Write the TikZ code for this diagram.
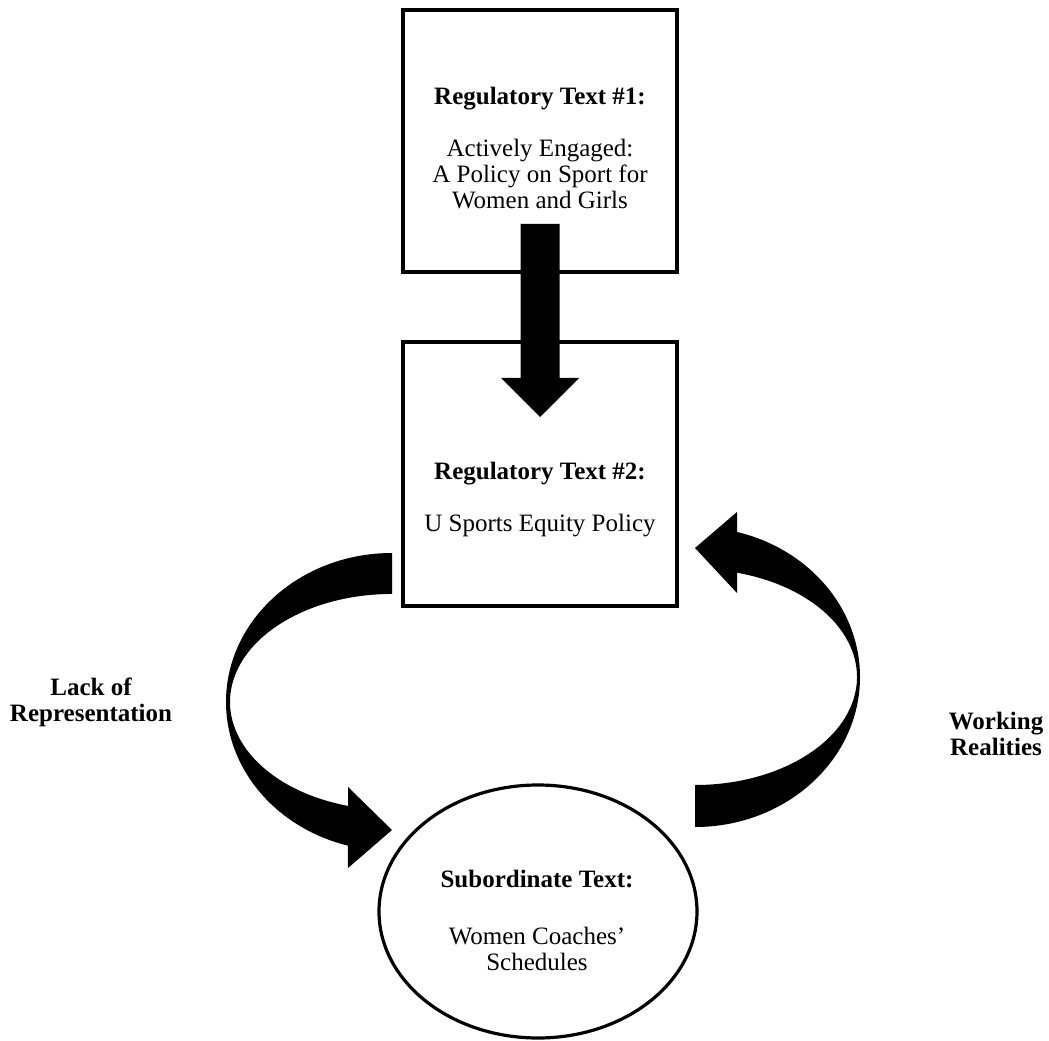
\documentclass[tikz,border=0pt]{standalone}
\usepackage{fontspec}
\setmainfont{Liberation Serif}
\usetikzlibrary{shapes.geometric}
\begin{document}
\begin{tikzpicture}[x=0.5pt,y=0.5pt,
  boxnode/.style={draw,line width=2pt,rectangle,minimum width=137pt,minimum height=131pt,inner sep=0pt},
  ellnode/.style={draw,ellipse,line width=1.6pt,minimum width=159pt,minimum height=126.5pt,inner sep=0pt},
  txt/.style={align=center,font=\fontsize{12.5pt}{13pt}\selectfont,inner sep=0pt},
  lbl/.style={align=center,font=\fontsize{12.5pt}{13pt}\selectfont\bfseries,inner sep=0pt},
  bigarrow/.style={fill=black}]

\fill[white] (0,0) rectangle (1049,1040);
\useasboundingbox (0,0) rectangle (1049,1040);

% boxes and ellipse
\node[boxnode] (b1) at (540,899) {};
\node[boxnode,minimum height=132pt] (b2) at (540,566) {};
\node[ellnode] (e) at (538,128.5) {};

% texts
\node[txt] (t1) at (540,891.5) {\textbf{Regulatory Text \#1:}\\[13pt] Actively Engaged:\\ A Policy on Sport for\\ Women and Girls};
\node[txt] (t2) at (540,540.5) {\textbf{Regulatory Text \#2:}\\[13pt] U Sports Equity Policy};
\node[txt] (t3) at (537,120) {\textbf{Subordinate Text:}\\[15.5pt] Women Coaches’\\ Schedules};
\node[lbl] (l1) at (91,338) {Lack of\\ Representation};
\node[lbl] (l2) at (996,306) {Working\\ Realities};

% straight block arrow from box 1 to box 2
\fill[bigarrow] (520.5,816) -- (559.5,816) -- (559.5,662) -- (579,662) -- (540,623)
  -- (501,662) -- (520.5,662) -- cycle;

% left curved arrow (box 2 -> ellipse)
\fill[bigarrow] (392,487) arc[start angle=90,end angle=254.6,x radius=83pt,y radius=74.5pt]
  -- (348,172) -- (392,210) -- (348,253) -- (348,234.1)
  arc[start angle=254.24,end angle=90,x radius=81pt,y radius=54pt] -- cycle;

% right curved arrow (ellipse -> box 2)
\fill[bigarrow] (695,213) arc[start angle=-90,end angle=75.25,x radius=82.5pt,y radius=75pt]
  -- (737,528) -- (695,492) -- (737,447) -- (737,467.3)
  arc[start angle=74.97,end angle=-90,x radius=81pt,y radius=54pt] -- cycle;
\end{tikzpicture}
\end{document}
